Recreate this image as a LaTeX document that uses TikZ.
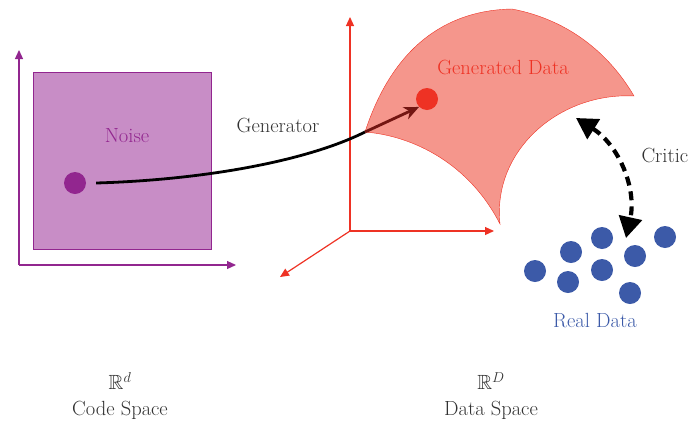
\RequirePackage{fix-cm}
\documentclass[tikz,border=0pt]{standalone}
\usepackage{amsmath}
\usepackage{amssymb}
\usepackage{fontspec}
\usepackage{tikz}
\usetikzlibrary{arrows.meta}
\usepackage{xcolor}
\definecolor{purp}{RGB}{146,38,143}
\definecolor{lightpurp}{RGB}{200,141,198}
\definecolor{redline}{RGB}{238,50,36}
\definecolor{salmon}{RGB}{245,150,140}
\definecolor{bluedot}{RGB}{60,90,168}
\definecolor{darkred}{RGB}{115,22,18}
\definecolor{txt}{RGB}{50,50,50}

\begin{document}
\begin{tikzpicture}[x=1pt,y=-1pt,
  every node/.style={font=\fontsize{20.5}{24}\selectfont},
  dot/.style={circle,inner sep=0pt,minimum size=22pt},
  realdot/.style={dot,fill=bluedot}]
\useasboundingbox (0,0) rectangle (688,421);

% code space
\coordinate (o1) at (19,265);
\coordinate (y1) at (19,50);
\coordinate (x1) at (236,265);
\draw [purp, line width=1.2] [-{Triangle[length=9pt,width=8pt]}] (o1) -- (y1);
\draw [purp, line width=1.2] [-{Triangle[length=9pt,width=8pt]}] (o1) -- (x1);
\draw [purp, fill=lightpurp] (33,72) rectangle (211,249);
\node [purp] (noise) at (127,136) {Noise};
\node [dot, fill=purp] (z) at (75,183) {};

% data space
\coordinate (o2) at (350,231);
\coordinate (y2) at (350,17);
\coordinate (x2) at (494,231);
\coordinate (w2) at (280,277);
\draw [redline, line width=1.2] [-{Triangle[length=9pt,width=8pt]}] (o2) -- (y2);
\draw [redline, line width=1.2] [-{Triangle[length=9pt,width=8pt]}] (o2) -- (x2);
\draw [redline, line width=1.2] [-{Triangle[length=9pt,width=8pt]}] (o2) -- (w2);

\coordinate (corner) at (365,132);
\draw [redline, fill=salmon] (corner) .. controls (395,40) and (453,10) .. (512,9)
  .. controls (570,20) and (610,55) .. (634,96)
  .. controls (560,92) and (492,150) .. (500,224)
  .. controls (470,165) and (415,136) .. (corner) -- cycle;
\node [redline] (gentext) at (503,67) {Generated Data};
\node [dot, fill=redline] (gen) at (427,99) {};

% generator
\draw [line width=2.8] (z.east) ++(10,0) .. controls (200,180) and (305,162) .. (corner);
\draw [darkred, line width=2.8] [-{Stealth[length=15pt,width=13pt]}] (corner) -- (gen.south west);
\node [txt] (gname) at (278,125) {Generator};

% real data
\node [realdot] (r1) at (535,271) {};
\node [realdot] (r2) at (571,252) {};
\node [realdot] (r3) at (602,238) {};
\node [realdot] (r4) at (568,282) {};
\node [realdot] (r5) at (602,270) {};
\node [realdot] (r6) at (635,256) {};
\node [realdot] (r7) at (665,237) {};
\node [realdot] (r8) at (630,293) {};
\node [bluedot] (realtext) at (595,321) {Real Data};

% critic
\coordinate (c1) at (576,118);
\coordinate (c2) at (626,238);
\draw [line width=4.2, dash pattern=on 9pt off 6pt]
  [{Triangle[length=21pt,width=23pt]}-{Triangle[length=21pt,width=23pt]}] (c1) to[bend left=35] (c2);
\node [txt, anchor=west] (critic) at (638,155) {Critic};

% labels
\node [txt] (rd) at (120,381) {$\mathbb{R}^d$};
\node [txt] (code) at (120,410) {Code Space};
\node [txt] (rD) at (491,381) {$\mathbb{R}^D$};
\node [txt] (data) at (491,410) {Data Space};
\end{tikzpicture}
\end{document}
